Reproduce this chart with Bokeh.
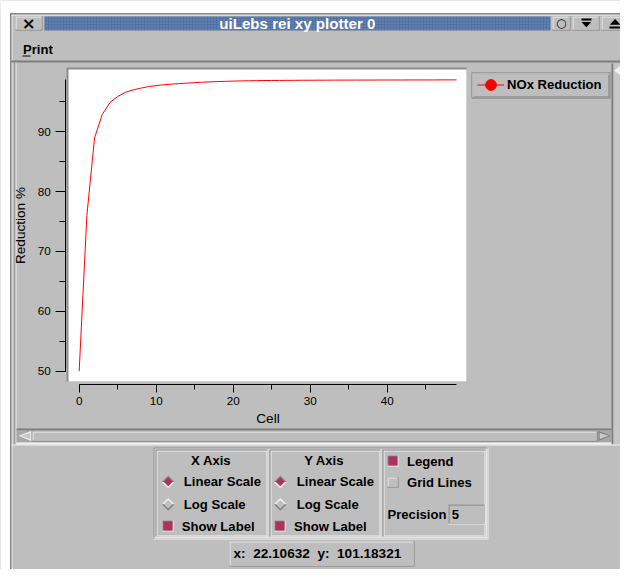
from bokeh.plotting import figure
from bokeh.models import (Range1d, SingleIntervalTicker, BoxAnnotation, Label,
                          PolyAnnotation, Legend, LegendItem, ColumnDataSource)
from bokeh.embed import file_html
from bokeh.resources import INLINE

# ---------------- data ----------------
cells = [0, 1, 2, 3, 4, 5, 6, 7, 8, 9,
         10, 11, 12, 13, 14, 15, 16, 17, 18, 19,
         20, 21, 22, 23, 24, 25, 26, 27, 28, 29,
         30, 31, 32, 33, 34, 35, 36, 37, 38, 39,
         40, 41, 42, 43, 44, 45, 46, 47, 48, 49]
nox_reduction = [50.0, 76.0, 89.0, 92.9, 94.9, 95.9, 96.6, 97.0, 97.3, 97.55,
                 97.72, 97.86, 97.97, 98.06, 98.14, 98.22, 98.29, 98.35, 98.40, 98.44,
                 98.48, 98.51, 98.53, 98.55, 98.57, 98.58, 98.59, 98.60, 98.61, 98.62,
                 98.62, 98.63, 98.63, 98.64, 98.64, 98.64, 98.65, 98.65, 98.65, 98.66,
                 98.66, 98.66, 98.66, 98.67, 98.67, 98.67, 98.67, 98.68, 98.68, 98.68]
series_name = "NOx Reduction"
x_axis_label = "Cell"
y_axis_label = "Reduction %"
window_title = "uiLebs rei xy plotter 0"
menu_label = "Print"
x_tick_interval = 10
y_tick_interval = 10
cursor_x = "22.10632"
cursor_y = "101.18321"
precision_value = "5"

# ---------------- style ----------------
BG = "#bebebe"
LIGHT = "#f2f2f2"
DARK = "#7c7c7c"
MAROON = "#b03060"
FONT = "Liberation Sans"
NB = "\u00a0"
W, H = 620, 569
SX, SY = W / 636.0, H / 585.0


def fs(px):
    return "%.1fpx" % (px * (SX + SY) / 2)


source = ColumnDataSource(dict(cell=cells, red=nox_reduction))

# the frame fills the whole canvas; axes are pinned with fixed_location
p = figure(width=W, height=H,
           x_range=Range1d(-10.215, 70.291), y_range=Range1d(16.829, 111.951),
           output_backend="svg", toolbar_location=None,
           min_border=0, min_border_left=0, min_border_right=0,
           min_border_top=0, min_border_bottom=0,
           background_fill_color=BG, border_fill_color=BG,
           outline_line_color=None)
p.title.visible = False
p.grid.visible = False

CU = dict(left_units="canvas", right_units="canvas",
          top_units="canvas", bottom_units="canvas")


def rect(l, t, r, b, color, **kw):
    p.add_layout(BoxAnnotation(left=round(l * SX), right=round(r * SX),
                               top=round(t * SY), bottom=round(b * SY),
                               fill_color=color, fill_alpha=1.0, line_alpha=0,
                               level="underlay", **CU, **kw))


def bevel(l, t, r, b, raised=True, fill=BG):
    tl, br = (LIGHT, DARK) if raised else (DARK, LIGHT)
    rect(l, t, r, b, br)
    rect(l, t, r - 1, b - 1, tl)
    rect(l + 1, t + 1, r - 1, b - 1, fill)


def groove(l, t, r, b):
    rect(l, t, r, b, LIGHT)
    rect(l, t, r - 1, b - 1, DARK)
    rect(l + 1, t + 1, r - 1, b - 1, LIGHT)
    rect(l + 2, t + 2, r - 2, b - 2, BG)


def poly(xs, ys, color):
    p.add_layout(PolyAnnotation(xs=[x * SX for x in xs], ys=[y * SY for y in ys],
                                xs_units="canvas", ys_units="canvas",
                                fill_color=color, fill_alpha=1.0, line_alpha=0,
                                level="underlay"))


def text(x, y, s, size=13.5, bold=True, color="black", align="left",
         baseline="middle", font=FONT):
    p.add_layout(Label(x=x * SX, y=y * SY, x_units="canvas", y_units="canvas",
                       text=s, text_font=font, text_font_size=fs(size),
                       text_font_style="bold" if bold else "normal",
                       text_color=color, text_align=align, text_baseline=baseline))


def diamond(cx, cy, selected):
    r = 6.5
    top, bot = (DARK, LIGHT) if selected else (LIGHT, DARK)
    poly([cx - r, cx, cx + r], [cy, cy - r, cy], top)
    poly([cx - r, cx, cx + r], [cy, cy + r, cy], bot)
    ri = 4.5
    poly([cx - ri, cx, cx + ri, cx], [cy, cy - ri, cy, cy + ri],
         MAROON if selected else BG)


def checkbox(l, t, r, b, selected):
    if selected:
        bevel(l, t, r, b, raised=False, fill=MAROON)
    else:
        bevel(l, t, r, b, raised=True, fill=BG)


# ---------------- window chrome ----------------
rect(0, 0, 640, 13, "white")
rect(0, 0, 10, 590, "white")
rect(10, 13, 640, 14, "#303030")
rect(10, 13, 11, 590, "#303030")
rect(11, 14, 640, 15, LIGHT)
rect(11, 14, 12, 590, LIGHT)

# title bar
bevel(15, 16, 43, 31)
text(29, 23.5, "\u00d7", size=17, font="DejaVu Sans", align="center")
rect(45, 16, 564, 31, "#5272a3", hatch_pattern="dot", hatch_color="#8aa4cc",
     hatch_scale=3, hatch_weight=1, hatch_alpha=0.7)
text(304.5, 24, window_title, size=15.5, color="white", align="center")
bevel(566, 16, 585, 31)
text(575.5, 23.5, "\u25cb", size=12, bold=False, align="center", font="DejaVu Sans")
bevel(587, 16, 614, 31)
rect(596, 19, 606, 21, "black")
poly([596, 606, 601], [22, 22, 27.5], "black")
bevel(617, 16, 645, 31)
poly([625, 636, 630.5], [25, 25, 19], "black")
rect(625, 26.5, 636, 28.5, "black")

# menu bar
text(23, 50.5, menu_label)
rect(23, 57, 31, 58, "black")
rect(11, 62, 640, 64, DARK)

# plot panel borders
rect(14, 64, 15, 456, DARK)
rect(15, 64, 16, 456, LIGHT)

# white plotting area (sunken)
rect(68, 69, 478, 392, "#8c8c8c")
rect(70, 71, 478, 392, "white")

# legend box
rect(483, 74, 626, 101, DARK)
rect(484, 75, 625, 100, LIGHT)
rect(485, 76, 625, 100, DARK)
rect(485, 76, 624, 99, BG)

# right scrollbar
rect(627, 65, 629, 456, DARK)
rect(629, 65, 640, 456, "#c6c6c6")
poly([629.5, 636, 636], [72, 67, 77], LIGHT)

# horizontal scrollbar
rect(16, 440, 627, 442, DARK)
rect(16, 442, 627, 454, "#a8a8a8")
rect(16, 454, 627, 456, LIGHT)
bevel(33, 443, 612, 453)
poly([18.5, 31.5, 31.5], [447.5, 442.5, 453], LIGHT)
poly([20.5, 30.5, 30.5], [447.5, 444.5, 451], "#c8c8c8")
poly([626, 613.5, 613.5], [447.5, 442.5, 453], DARK)
poly([624, 614.5, 614.5], [447.5, 444.5, 451], "#c8c8c8")
rect(11, 456, 640, 457, LIGHT)

# control panel
groove(157, 460, 501, 554)
groove(159, 462, 275, 552)
groove(276, 462, 391, 552)
groove(392, 462, 499, 552)

text(216, 473, "X Axis", align="center")
diamond(172, 495, True)
text(188, 495, "Linear Scale")
diamond(172, 518, False)
text(188, 518, "Log Scale")
checkbox(166, 535, 177, 546, True)
text(186, 540.5, "Show Label")

text(332, 473, "Y Axis", align="center")
diamond(287, 495, True)
text(304, 495, "Linear Scale")
diamond(287, 518, False)
text(304, 518, "Log Scale")
checkbox(281, 535, 292, 546, True)
text(301, 540.5, "Show Label")

checkbox(397, 468, 408, 479, True)
text(417, 473.5, "Legend")
checkbox(397, 490, 408, 501, False)
text(417, 495.5, "Grid Lines")
text(397, 528.5, "Precision")
bevel(460, 518, 498, 539, raised=False)
text(463, 528.5, precision_value)

bevel(235, 556, 425, 582)
text(239, 569, "x:" + NB + NB + cursor_x + NB + NB + "y:" + NB + NB + cursor_y, size=14)

# ---------------- chart ----------------
line_r = p.line("cell", "red", source=source, line_color="#ff0000", line_width=1)
dot_r = p.scatter("cell", "red", source=source, marker="circle", size=11,
                  fill_color="#ff0000", line_color="#ff0000", visible=False)

xax = p.xaxis[0]
yax = p.yaxis[0]
xax.fixed_location = 47.72      # axis line just below the white plotting area
yax.fixed_location = -1.734     # axis line just left of the white plotting area
xax.ticker = SingleIntervalTicker(interval=x_tick_interval, num_minor_ticks=2)
yax.ticker = SingleIntervalTicker(interval=y_tick_interval, num_minor_ticks=2)
xax.bounds = (min(cells), max(cells))
yax.bounds = (min(nox_reduction), max(nox_reduction))
xax.axis_label = x_axis_label
yax.axis_label = y_axis_label
for ax in (xax, yax):
    ax.axis_line_color = "black"
    ax.major_tick_line_color = "black"
    ax.minor_tick_line_color = "black"
    ax.major_tick_in = 0
    ax.minor_tick_in = 0
    ax.major_label_text_font = FONT
    ax.major_label_text_font_size = fs(12)
    ax.major_label_text_color = "black"
    ax.axis_label_text_font = FONT
    ax.axis_label_text_font_size = fs(14)
    ax.axis_label_text_font_style = "normal"
    ax.axis_label_text_color = "black"
xax.major_tick_out = 8
xax.minor_tick_out = 5
xax.major_label_standoff = 4
xax.axis_label_standoff = 3
yax.major_tick_out = 10
yax.minor_tick_out = 6
yax.major_label_standoff = 5
yax.axis_label_standoff = 6

legend = Legend(items=[LegendItem(label=series_name, renderers=[line_r, dot_r])],
                location=(round(489 * SX), round(H - 101 * SY)),
                orientation="vertical",
                glyph_width=27, glyph_height=27, label_height=27,
                padding=0, margin=0, spacing=0, label_standoff=3,
                background_fill_alpha=0, border_line_alpha=0,
                label_text_font=FONT, label_text_font_style="bold",
                label_text_font_size=fs(13.5), label_text_color="black")
p.add_layout(legend)

open("out.html", "w").write(file_html(p, INLINE))
